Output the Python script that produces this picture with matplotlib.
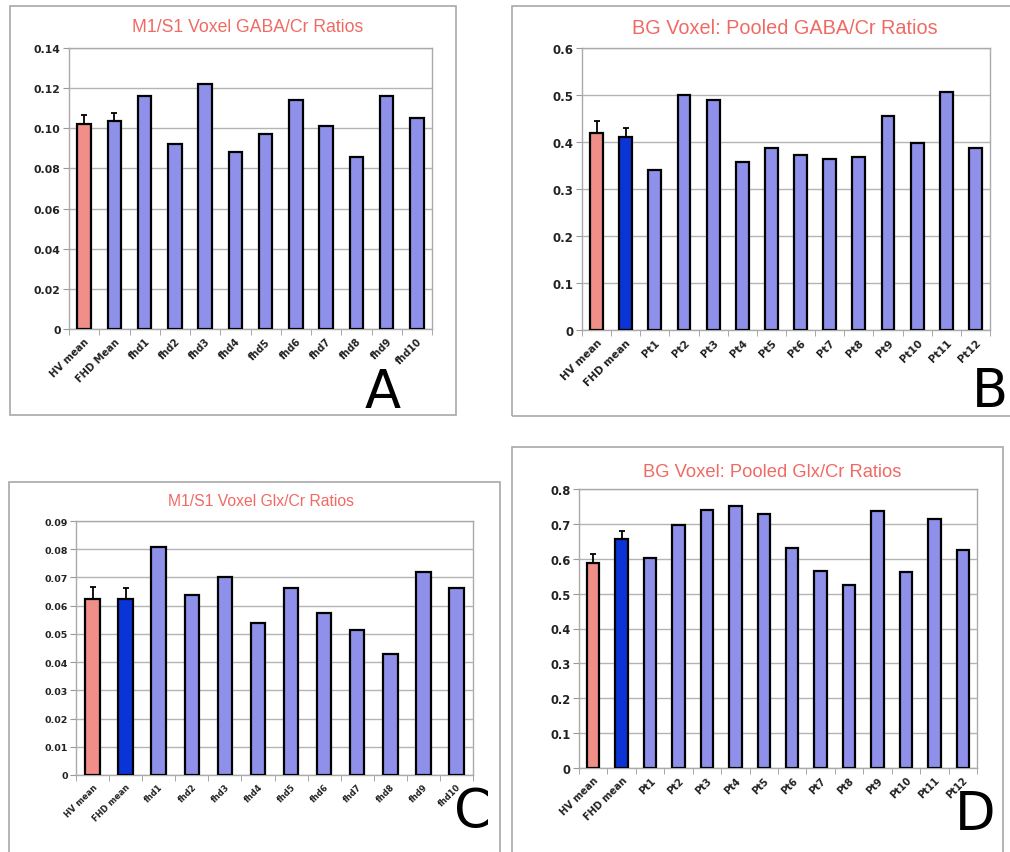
import numpy as np
import matplotlib
matplotlib.use("Agg")
import matplotlib.pyplot as plt
from matplotlib.patches import Rectangle

# panel A: M1/S1 GABA/Cr
labels_a = ["HV mean", "FHD Mean", "fhd1", "fhd2", "fhd3", "fhd4", "fhd5",
            "fhd6", "fhd7", "fhd8", "fhd9", "fhd10"]
vals_a = [0.102, 0.1035, 0.116, 0.092, 0.122, 0.088, 0.097, 0.114, 0.101,
          0.0855, 0.116, 0.105]
err_a = [0.0047, 0.0043]

# panel B: BG pooled GABA/Cr
labels_b = ["HV mean", "FHD mean", "Pt1", "Pt2", "Pt3", "Pt4", "Pt5", "Pt6",
            "Pt7", "Pt8", "Pt9", "Pt10", "Pt11", "Pt12"]
vals_b = [0.420, 0.411, 0.341, 0.499, 0.490, 0.358, 0.387, 0.373, 0.363,
          0.368, 0.456, 0.398, 0.506, 0.387]
err_b = [0.025, 0.018]

# panel C: M1/S1 Glx/Cr
labels_c = ["HV mean", "FHD mean", "fhd1", "fhd2", "fhd3", "fhd4", "fhd5",
            "fhd6", "fhd7", "fhd8", "fhd9", "fhd10"]
vals_c = [0.0624, 0.0624, 0.0808, 0.0639, 0.0700, 0.0539, 0.0661, 0.0575,
          0.0514, 0.0427, 0.0719, 0.0663]
err_c = [0.0042, 0.0038]

# panel D: BG pooled Glx/Cr
labels_d = labels_b
vals_d = [0.589, 0.657, 0.601, 0.697, 0.740, 0.752, 0.728, 0.632, 0.564,
          0.524, 0.738, 0.562, 0.714, 0.624]
err_d = [0.025, 0.024]

W, H = 1010, 853
PINK = "#f08e88"
DARK = "#0a34d6"
LIGHT = "#8e90ea"
TITLE_C = "#f06a64"
GRID_C = "#b4b4b4"

fig = plt.figure(figsize=(W / 100, H / 100), dpi=100)
fig.patch.set_facecolor("white")


def frame(x0, y0, x1, y1):
    fig.add_artist(Rectangle((x0 / W, 1 - y1 / H), (x1 - x0) / W, (y1 - y0) / H,
                             transform=fig.transFigure, fill=False,
                             edgecolor="#a8a8a8", linewidth=1.2))


def panel(box, labels, vals, errs, ymax, step, fmt, title, title_xy, title_fs,
          letter, letter_xy, yfs, xfs, fhd_dark=True):
    l, r, t, b = box
    ax = fig.add_axes([l / W, 1 - b / H, (r - l) / W, (b - t) / H])
    n = len(vals)
    x = np.arange(n)
    cols = [PINK, DARK if fhd_dark else LIGHT] + [LIGHT] * (n - 2)
    ax.bar(x, vals, width=0.44, color=cols, edgecolor="black", linewidth=1.6,
           zorder=3)
    ax.errorbar(x[:2], vals[:2], yerr=[[0, 0], errs], fmt="none",
                ecolor="black", elinewidth=1.3, capsize=2.5, capthick=1.3,
                zorder=2)
    ax.set_xlim(-0.5, n - 0.5)
    ax.set_ylim(0, ymax)
    ticks = np.arange(0, ymax + step / 2, step)
    ax.set_yticks(ticks)
    ax.set_yticklabels(["0"] + [fmt % v for v in ticks[1:]],
                       fontsize=yfs, fontweight="bold", color="#222222")
    ax.set_xticks(x)
    ax.set_xticklabels(labels, rotation=45, ha="right", rotation_mode="anchor",
                       fontsize=xfs, fontweight="bold", color="#222222")
    ax.set_xticks(np.arange(-0.5, n, 1.0), minor=True)
    ax.tick_params(axis="x", which="major", length=0, pad=5)
    ax.tick_params(axis="x", which="minor", length=4, color="#999999",
                   direction="out")
    ax.tick_params(axis="y", length=4, color="#999999", pad=2)
    ax.yaxis.grid(True, color=GRID_C, linewidth=1.0, zorder=0)
    ax.set_axisbelow(True)
    for s in ax.spines.values():
        s.set_color("#aaaaaa")
        s.set_linewidth(1.0)
    fig.text(title_xy[0] / W, 1 - title_xy[1] / H, title, ha="center",
             va="center", fontsize=title_fs, color=TITLE_C,
             family="Liberation Sans")
    fig.text(letter_xy[0] / W, 1 - letter_xy[1] / H, letter, ha="center",
             va="center", fontsize=38, color="black", family="DejaVu Sans")
    return ax


frame(10, 7, 456, 416)
frame(512, 7, 1015, 417)
frame(9, 483, 500, 860)
frame(512, 448, 1003, 860)

panel((69, 432, 49, 330), labels_a, vals_a, err_a, 0.14, 0.02, "%.2f",
      "M1/S1 Voxel GABA/Cr Ratios", (248, 28), 12.7, "A", (383, 393),
      7.8, 7.1, fhd_dark=False)
panel((582, 990, 49, 331), labels_b, vals_b, err_b, 0.6, 0.1, "%.1f",
      "BG Voxel: Pooled GABA/Cr Ratios", (785, 28), 14.3, "B", (990, 392),
      8.5, 7.6)
panel((76, 473, 522, 776), labels_c, vals_c, err_c, 0.09, 0.01, "%.2f",
      "M1/S1 Voxel Glx/Cr Ratios", (261, 502), 11.3, "C", (472, 812),
      6.8, 6.0)
panel((579, 977, 490, 769), labels_d, vals_d, err_d, 0.8, 0.1, "%.1f",
      "BG Voxel: Pooled Glx/Cr Ratios", (772, 473), 13.2, "D", (975, 815),
      8.3, 7.0)

fig.savefig("out.png", dpi=100, facecolor="white")
